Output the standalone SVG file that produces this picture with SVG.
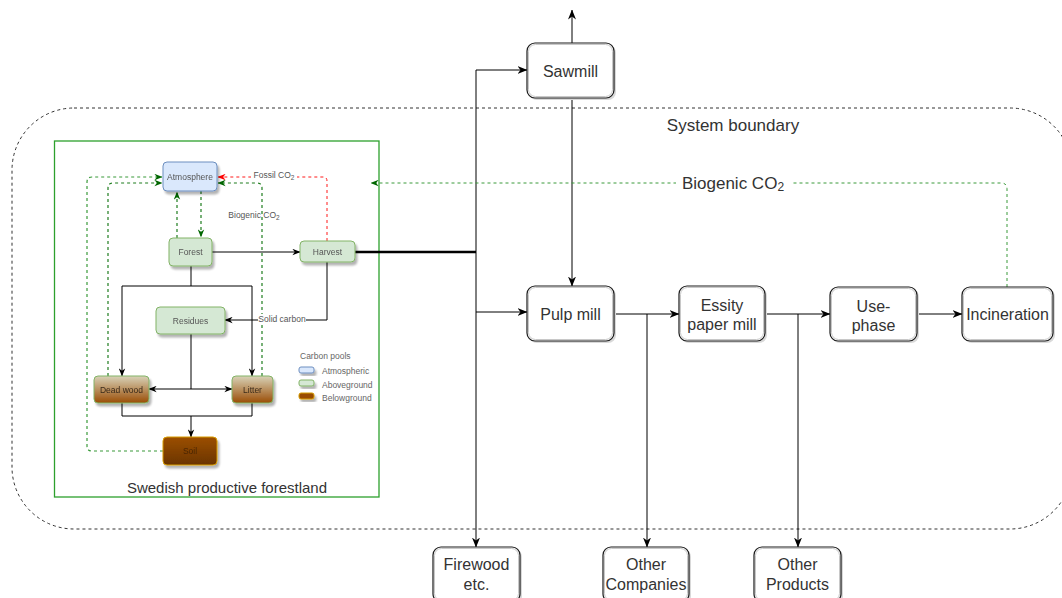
<svg xmlns="http://www.w3.org/2000/svg" width="1062" height="598" viewBox="0 0 1062 598">
<style>
  .box { fill: #ffffff; stroke: #1a1a1a; stroke-width: 1.2; }
  .boxin { fill: none; stroke: #c8c8c8; stroke-width: 1; }
  .shadow { fill: #d9d9d9; }
  .lbl { font-family: "Liberation Sans", Arial, sans-serif; font-size: 16px; fill: #333; text-anchor: middle; dominant-baseline: central; }
  .big { font-family: "Liberation Sans", Arial, sans-serif; font-size: 17px; fill: #333; text-anchor: middle; dominant-baseline: central; }
  .sm { font-family: "Liberation Sans", Arial, sans-serif; font-size: 8.5px; fill: #555; text-anchor: middle; dominant-baseline: central; }
  .sml { font-family: "Liberation Sans", Arial, sans-serif; font-size: 8.5px; fill: #666; dominant-baseline: central; }
  .conn { fill: none; stroke: #000; stroke-width: 1; }
  .thick { fill: none; stroke: #000; stroke-width: 2.5; }
  .green { fill: none; stroke: #1e7d1e; stroke-width: 1.2; stroke-dasharray: 3 3; }
  .biog { fill: none; stroke: #3a9a3a; stroke-width: 1; stroke-dasharray: 3 3; }
  .red { fill: none; stroke: #ff1a1a; stroke-width: 1; stroke-dasharray: 3 3; }
</style>
<defs>
  <marker id="ab" viewBox="0 0 10 8" refX="9.5" refY="4" markerWidth="10" markerHeight="8" orient="auto" markerUnits="userSpaceOnUse"><path d="M0,0 L10,4 L0,8 L3,4 z" fill="#000"/></marker>
  <marker id="abs" viewBox="0 0 10 8" refX="9.5" refY="4" markerWidth="8" markerHeight="7" orient="auto" markerUnits="userSpaceOnUse"><path d="M0,0 L10,4 L0,8 L3,4 z" fill="#000"/></marker>
  <marker id="ag" viewBox="0 0 10 8" refX="9.5" refY="4" markerWidth="8" markerHeight="7" orient="auto" markerUnits="userSpaceOnUse"><path d="M0,0 L10,4 L0,8 L3,4 z" fill="#006600"/></marker>
  <marker id="ar" viewBox="0 0 10 8" refX="9.5" refY="4" markerWidth="8" markerHeight="7" orient="auto" markerUnits="userSpaceOnUse"><path d="M0,0 L10,4 L0,8 L3,4 z" fill="#ff0000"/></marker>
  <linearGradient id="gdw" x1="0" y1="0" x2="0" y2="1"><stop offset="0" stop-color="#d8d2b8"/><stop offset="1" stop-color="#9a4d05"/></linearGradient>
  <linearGradient id="gsoil" x1="0" y1="0" x2="0" y2="1"><stop offset="0" stop-color="#9c4f00"/><stop offset="1" stop-color="#6a3400"/></linearGradient>
  <filter id="sh" x="-20%" y="-20%" width="150%" height="160%"><feGaussianBlur in="SourceAlpha" stdDeviation="1.2"/><feOffset dx="2" dy="2.5" result="b"/><feComponentTransfer><feFuncA type="linear" slope="0.3"/></feComponentTransfer><feMerge><feMergeNode/><feMergeNode in="SourceGraphic"/></feMerge></filter>
</defs>
<rect width="1062" height="598" fill="#ffffff"/>

<!-- System boundary -->
<g id="system-boundary">
  <rect x="12" y="108" width="1060" height="421" rx="62" ry="62" fill="none" stroke="#333" stroke-width="1" stroke-dasharray="3 3"/>
  <text class="big" x="733" y="125">System boundary</text>
</g>

<!-- Forest area -->
<g id="forestland">
  <rect x="54.5" y="141" width="324.5" height="356" fill="none" stroke="#2da02d" stroke-width="1.3"/>
  <text class="lbl" x="227" y="487" style="font-size:15px">Swedish productive forestland</text>
</g>

<g id="connectors">
  <!-- forest internals -->
  <path class="conn" d="M212,252 H300" marker-end="url(#abs)"/>
  <path class="conn" d="M191,266 V286 M122,286 H252"/>
  <path class="conn" d="M122,286 V376" marker-end="url(#abs)"/>
  <path class="conn" d="M252,286 V376" marker-end="url(#abs)"/>
  <path class="conn" d="M327,262 V320 H225" marker-end="url(#abs)"/>
  <path class="conn" d="M191,334 V389"/>
  <path class="conn" d="M191,389 H149" marker-end="url(#abs)"/>
  <path class="conn" d="M191,389 H232" marker-end="url(#abs)"/>
  <path class="conn" d="M122,403 V416 H252 V403"/>
  <path class="conn" d="M191,416 V437" marker-end="url(#abs)"/>
  <path class="red" d="M327,241 V181 Q327,177 323,177 H218" marker-end="url(#ar)"/>
  <path class="green" d="M177,238 V192" marker-end="url(#ag)"/>
  <path class="green" d="M201,191 V237" marker-end="url(#ag)"/>
  <path class="green" style="stroke:#3a9a3a" d="M163,451 H92 Q87,451 87,446 V182 Q87,177 92,177 H162" marker-end="url(#ag)"/>
  <path class="green" d="M108,376 V188 Q108,183 113,183 H162" marker-end="url(#ag)"/>
  <path class="green" d="M262,376 V188 Q262,183 257,183 H218" marker-end="url(#ag)"/>
  <rect x="251" y="170" width="46" height="10" fill="#fff"/>
  <text class="sm" x="274" y="175">Fossil CO<tspan font-size="6.5" dy="2">2</tspan></text>
  <text class="sm" x="254" y="215">Biogenic CO<tspan font-size="6.5" dy="2">2</tspan></text>
  <rect x="258" y="314" width="48" height="10" fill="#fff"/>
  <text class="sm" x="282" y="319">Solid carbon</text>

  <!-- main flow -->
  <path class="thick" d="M355,252 H476"/>
  <path class="conn" d="M476,252 V70 H527" marker-end="url(#ab)"/>
  <path class="conn" d="M476,252 V547" marker-end="url(#ab)"/>
  <path class="conn" d="M476,312 H527" marker-end="url(#ab)"/>
  <path class="conn" d="M572,43 V10" marker-end="url(#ab)"/>
  <path class="conn" d="M572,98 V286" marker-end="url(#ab)"/>
  <path class="conn" d="M614,314 H679" marker-end="url(#ab)"/>
  <path class="conn" d="M647,314 V547" marker-end="url(#ab)"/>
  <path class="conn" d="M765,314 H830" marker-end="url(#ab)"/>
  <path class="conn" d="M798,314 V547" marker-end="url(#ab)"/>
  <path class="conn" d="M917,314 H962" marker-end="url(#ab)"/>
  <path class="biog" d="M1007,287 V189 Q1007,183 1001,183 H371" marker-end="url(#ag)"/>
  <rect x="676" y="172" width="116" height="22" fill="#fff"/>
  <text class="big" x="733" y="183">Biogenic CO<tspan font-size="12" dy="4">2</tspan></text>
</g>

<!-- forest nodes -->
<g id="atmosphere" filter="url(#sh)">
  <rect x="163" y="162" width="54" height="29" rx="4" fill="#dae8fc" stroke="#6c8ebf" stroke-width="1"/>
  <text class="sm" x="190" y="176.5">Atmosphere</text>
</g>
<g id="forest" filter="url(#sh)">
  <rect x="169" y="238" width="43" height="28" rx="4" fill="#d5e8d4" stroke="#82b366" stroke-width="1"/>
  <text class="sm" x="190.5" y="252">Forest</text>
</g>
<g id="harvest" filter="url(#sh)">
  <rect x="300" y="241" width="55" height="21" rx="4" fill="#d5e8d4" stroke="#82b366" stroke-width="1"/>
  <text class="sm" x="327.5" y="251.5">Harvest</text>
</g>
<g id="residues" filter="url(#sh)">
  <rect x="156" y="307" width="69" height="27" rx="4" fill="#d5e8d4" stroke="#82b366" stroke-width="1"/>
  <text class="sm" x="190.5" y="320.5">Residues</text>
</g>
<g id="dead-wood" filter="url(#sh)">
  <rect x="94" y="376" width="55" height="27" rx="4" fill="url(#gdw)" stroke="#82b366" stroke-width="1"/>
  <text class="sm" x="121.5" y="389.5" style="fill:#3a2a1a">Dead wood</text>
</g>
<g id="litter" filter="url(#sh)">
  <rect x="232" y="376" width="41" height="27" rx="4" fill="url(#gdw)" stroke="#82b366" stroke-width="1"/>
  <text class="sm" x="252.5" y="389.5" style="fill:#3a2a1a">Litter</text>
</g>
<g id="soil" filter="url(#sh)">
  <rect x="163" y="437" width="54" height="28" rx="4" fill="url(#gsoil)" stroke="#d79b00" stroke-width="1"/>
  <text class="sm" x="190" y="451" style="fill:#4a2500">Soil</text>
</g>

<!-- legend -->
<g id="legend">
  <text class="sml" x="300" y="356">Carbon pools</text>
  <rect x="299" y="367" width="15" height="6" rx="2" fill="#dae8fc" stroke="#6c8ebf" filter="url(#sh)"/>
  <text class="sml" x="322" y="371">Atmospheric</text>
  <rect x="299" y="380" width="15" height="6" rx="2" fill="#d5e8d4" stroke="#82b366" filter="url(#sh)"/>
  <text class="sml" x="322" y="384.5">Aboveground</text>
  <rect x="299" y="393" width="15" height="6" rx="2" fill="#994c00" stroke="#d79b00" filter="url(#sh)"/>
  <text class="sml" x="322" y="397.5">Belowground</text>
</g>

<!-- main nodes -->
<g id="sawmill">
  <rect class="shadow" x="529" y="45" width="87" height="55" rx="8"/>
  <rect class="box" x="527" y="43" width="87" height="55" rx="8"/>
  <rect class="boxin" x="528.5" y="44.5" width="84" height="52" rx="7"/>
  <text class="lbl" x="570.5" y="71">Sawmill</text>
</g>
<g id="pulp-mill">
  <rect class="shadow" x="529" y="288" width="87" height="55" rx="8"/>
  <rect class="box" x="527" y="286" width="87" height="55" rx="8"/>
  <rect class="boxin" x="528.5" y="287.5" width="84" height="52" rx="7"/>
  <text class="lbl" x="570.5" y="314">Pulp mill</text>
</g>
<g id="essity">
  <rect class="shadow" x="681" y="288" width="86" height="55" rx="8"/>
  <rect class="box" x="679" y="286" width="86" height="55" rx="8"/>
  <rect class="boxin" x="680.5" y="287.5" width="83" height="52" rx="7"/>
  <text class="lbl" x="722" y="305">Essity</text>
  <text class="lbl" x="722" y="324">paper mill</text>
</g>
<g id="use-phase">
  <rect class="shadow" x="832" y="289" width="87" height="54" rx="8"/>
  <rect class="box" x="830" y="287" width="87" height="54" rx="8"/>
  <rect class="boxin" x="831.5" y="288.5" width="84" height="51" rx="7"/>
  <text class="lbl" x="873.5" y="306">Use-</text>
  <text class="lbl" x="873.5" y="325">phase</text>
</g>
<g id="incineration">
  <rect class="shadow" x="964" y="289" width="91" height="54" rx="8"/>
  <rect class="box" x="962" y="287" width="91" height="54" rx="8"/>
  <rect class="boxin" x="963.5" y="288.5" width="88" height="51" rx="7"/>
  <text class="lbl" x="1007.5" y="314">Incineration</text>
</g>
<g id="firewood">
  <rect class="shadow" x="435" y="549" width="87" height="55" rx="8"/>
  <rect class="box" x="433" y="547" width="87" height="55" rx="8"/>
  <rect class="boxin" x="434.5" y="548.5" width="84" height="52" rx="7"/>
  <text class="lbl" x="476.5" y="564">Firewood</text>
  <text class="lbl" x="476.5" y="584">etc.</text>
</g>
<g id="other-companies">
  <rect class="shadow" x="605" y="549" width="86" height="55" rx="8"/>
  <rect class="box" x="603" y="547" width="86" height="55" rx="8"/>
  <rect class="boxin" x="604.5" y="548.5" width="83" height="52" rx="7"/>
  <text class="lbl" x="646" y="564">Other</text>
  <text class="lbl" x="646" y="584">Companies</text>
</g>
<g id="other-products">
  <rect class="shadow" x="756" y="549" width="87" height="55" rx="8"/>
  <rect class="box" x="754" y="547" width="87" height="55" rx="8"/>
  <rect class="boxin" x="755.5" y="548.5" width="84" height="52" rx="7"/>
  <text class="lbl" x="797.5" y="564">Other</text>
  <text class="lbl" x="797.5" y="584">Products</text>
</g>
</svg>
